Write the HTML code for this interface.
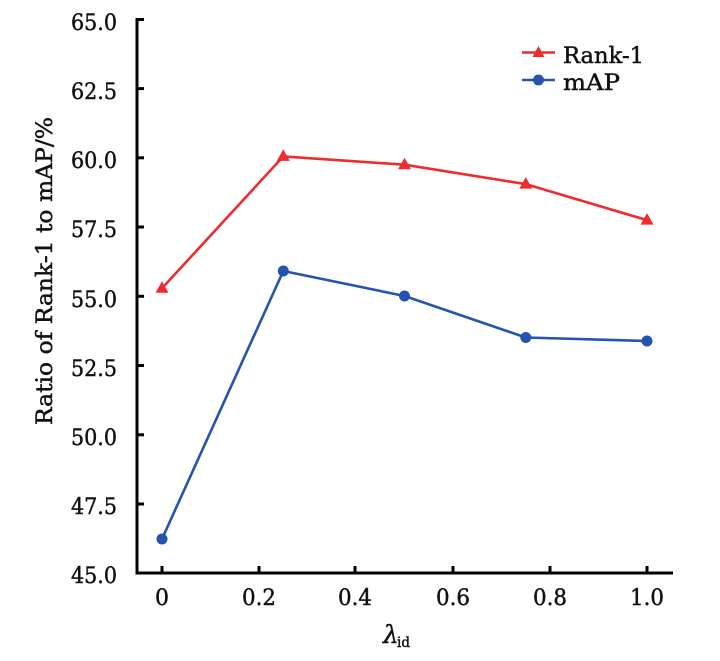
<!DOCTYPE html>
<html><head><meta charset="utf-8"><style>
html,body{margin:0;padding:0;background:#fff;}
svg{display:block;}
text{font-family:"DejaVu Serif","Liberation Serif",serif;fill:#111;stroke:#111;stroke-width:0.45;}
</style></head><body>
<svg width="720" height="661" viewBox="0 0 720 661" xmlns="http://www.w3.org/2000/svg">
<rect width="720" height="661" fill="#fff"/>
<!-- axes -->
<line x1="137" y1="18" x2="137" y2="574.5" stroke="#000" stroke-width="3"/>
<line x1="135.5" y1="573" x2="673" y2="573" stroke="#000" stroke-width="3"/>
<!-- y ticks -->
<g stroke="#000" stroke-width="3">
<line x1="137" y1="19.5" x2="144" y2="19.5"/>
<line x1="137" y1="88.6" x2="144" y2="88.6"/>
<line x1="137" y1="157.8" x2="144" y2="157.8"/>
<line x1="137" y1="227" x2="144" y2="227"/>
<line x1="137" y1="296.3" x2="144" y2="296.3"/>
<line x1="137" y1="365.5" x2="144" y2="365.5"/>
<line x1="137" y1="434.8" x2="144" y2="434.8"/>
<line x1="137" y1="504" x2="144" y2="504"/>
</g>
<!-- x ticks -->
<g stroke="#000" stroke-width="3">
<line x1="162" y1="573" x2="162" y2="566"/>
<line x1="259" y1="573" x2="259" y2="566"/>
<line x1="355" y1="573" x2="355" y2="566"/>
<line x1="453" y1="573" x2="453" y2="566"/>
<line x1="550" y1="573" x2="550" y2="566"/>
<line x1="647" y1="573" x2="647" y2="566"/>
</g>
<!-- y tick labels -->
<g font-size="22" text-anchor="end">
<text x="117" y="30" textLength="46" lengthAdjust="spacingAndGlyphs">65.0</text>
<text x="117" y="99" textLength="46" lengthAdjust="spacingAndGlyphs">62.5</text>
<text x="117" y="168" textLength="46" lengthAdjust="spacingAndGlyphs">60.0</text>
<text x="117" y="237" textLength="46" lengthAdjust="spacingAndGlyphs">57.5</text>
<text x="117" y="307" textLength="46" lengthAdjust="spacingAndGlyphs">55.0</text>
<text x="117" y="376" textLength="46" lengthAdjust="spacingAndGlyphs">52.5</text>
<text x="117" y="445" textLength="46" lengthAdjust="spacingAndGlyphs">50.0</text>
<text x="117" y="514" textLength="46" lengthAdjust="spacingAndGlyphs">47.5</text>
<text x="117" y="583" textLength="46" lengthAdjust="spacingAndGlyphs">45.0</text>
</g>
<!-- x tick labels -->
<g font-size="22" text-anchor="middle">
<text x="162" y="605">0</text>
<text x="259" y="605" textLength="34" lengthAdjust="spacingAndGlyphs">0.2</text>
<text x="355" y="605" textLength="34" lengthAdjust="spacingAndGlyphs">0.4</text>
<text x="453" y="605" textLength="34" lengthAdjust="spacingAndGlyphs">0.6</text>
<text x="550" y="605" textLength="34" lengthAdjust="spacingAndGlyphs">0.8</text>
<text x="647" y="605" textLength="34" lengthAdjust="spacingAndGlyphs">1.0</text>
</g>
<!-- y axis label -->
<text transform="translate(52,271) rotate(-90)" font-size="22" text-anchor="middle" textLength="308" lengthAdjust="spacingAndGlyphs">Ratio of Rank-1 to mAP/%</text>
<!-- x axis label -->
<text x="383" y="643" font-size="25" font-style="italic">λ</text>
<text x="397" y="647" font-size="13.5">id</text>
<!-- Rank-1 series -->
<polyline fill="none" stroke="#ee2b2e" stroke-width="2.6" stroke-linejoin="round"
 points="162,288.3 283.3,156.4 404.5,164.7 525.8,184.1 647,220.1"/>
<g fill="#ee2b2e">
<polygon points="162,281.3 168.5,292.8 155.5,292.8"/>
<polygon points="283.3,149.4 289.8,160.9 276.8,160.9"/>
<polygon points="404.5,157.7 411,169.2 398,169.2"/>
<polygon points="525.8,177.1 532.3,188.6 519.3,188.6"/>
<polygon points="647,213.1 653.5,224.6 640.5,224.6"/>
</g>
<!-- mAP series -->
<polyline fill="none" stroke="#2553b0" stroke-width="2.6" stroke-linejoin="round"
 points="162,539 283.3,271 404.5,296 525.8,337.5 647,341"/>
<g fill="#2553b0">
<circle cx="162" cy="539" r="5.5"/>
<circle cx="283.3" cy="271" r="5.5"/>
<circle cx="404.5" cy="296" r="5.5"/>
<circle cx="525.8" cy="337.5" r="5.5"/>
<circle cx="647" cy="341" r="5.5"/>
</g>
<!-- legend -->
<line x1="522" y1="52.5" x2="555" y2="52.5" stroke="#ee2b2e" stroke-width="2.6"/>
<polygon points="538.5,46 544.5,57 532.5,57" fill="#ee2b2e"/>
<text x="563" y="63" font-size="22" textLength="81" lengthAdjust="spacingAndGlyphs">Rank-1</text>
<line x1="522" y1="80" x2="555" y2="80" stroke="#2553b0" stroke-width="2.6"/>
<circle cx="538.5" cy="80" r="5.5" fill="#2553b0"/>
<text x="563" y="90" font-size="22" textLength="57" lengthAdjust="spacingAndGlyphs">mAP</text>
</svg>
</body></html>
